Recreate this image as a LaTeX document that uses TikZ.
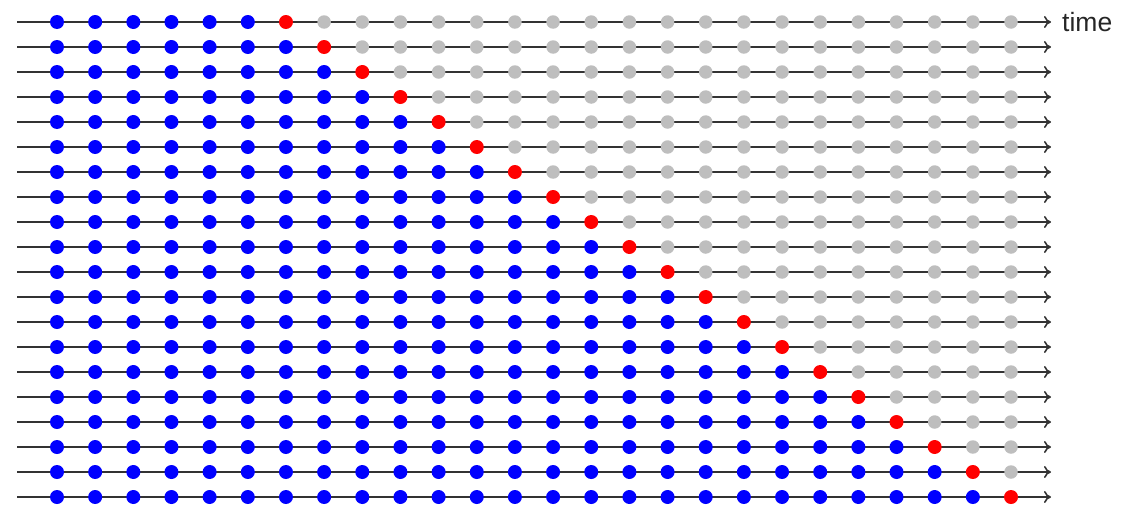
\documentclass[tikz,border=0pt]{standalone}
\usepackage{fontspec}
\setmainfont{Liberation Sans}
\usetikzlibrary{arrows.meta}
\begin{document}
\begin{tikzpicture}[x=1pt,y=-1pt,
  timeline/.style={draw=black!80,line width=1.8pt,-{To[length=7pt,width=12pt,line width=1.6pt]}},
  dotbase/.style={circle,inner sep=0pt,minimum size=14pt,draw=none},
  pastdot/.style={dotbase,fill={rgb,255:red,0;green,0;blue,255}},
  nowdot/.style={dotbase,fill={rgb,255:red,255;green,0;blue,0}},
  futuredot/.style={dotbase,minimum size=13.5pt,fill={rgb,255:red,190;green,190;blue,190}}]
\useasboundingbox (0,0) rectangle (1134,522);
\foreach \r in {1,...,20}{
  \pgfmathsetmacro{\yy}{22+(\r-1)*25}
  \coordinate (s\r) at (17,\yy);
  \coordinate (e\r) at (1051,\yy);
  \draw[timeline] (s\r) -- (e\r);
  \foreach \c in {1,...,26}{
    \pgfmathsetmacro{\xx}{57+(\c-1)*38.16}
    \pgfmathtruncatemacro{\red}{\r+6}
    \ifnum\c<\red
      \node[pastdot] (d\r-\c) at (\xx,\yy) {};
    \else\ifnum\c=\red
      \node[nowdot] (d\r-\c) at (\xx,\yy) {};
    \else
      \node[futuredot] (d\r-\c) at (\xx,\yy) {};
    \fi\fi
  }
}
\node[anchor=base west,inner sep=0pt,font=\fontsize{26.5}{30}\selectfont,text=black!85] (timelabel) at (1062,31) {time};
\end{tikzpicture}
\end{document}
